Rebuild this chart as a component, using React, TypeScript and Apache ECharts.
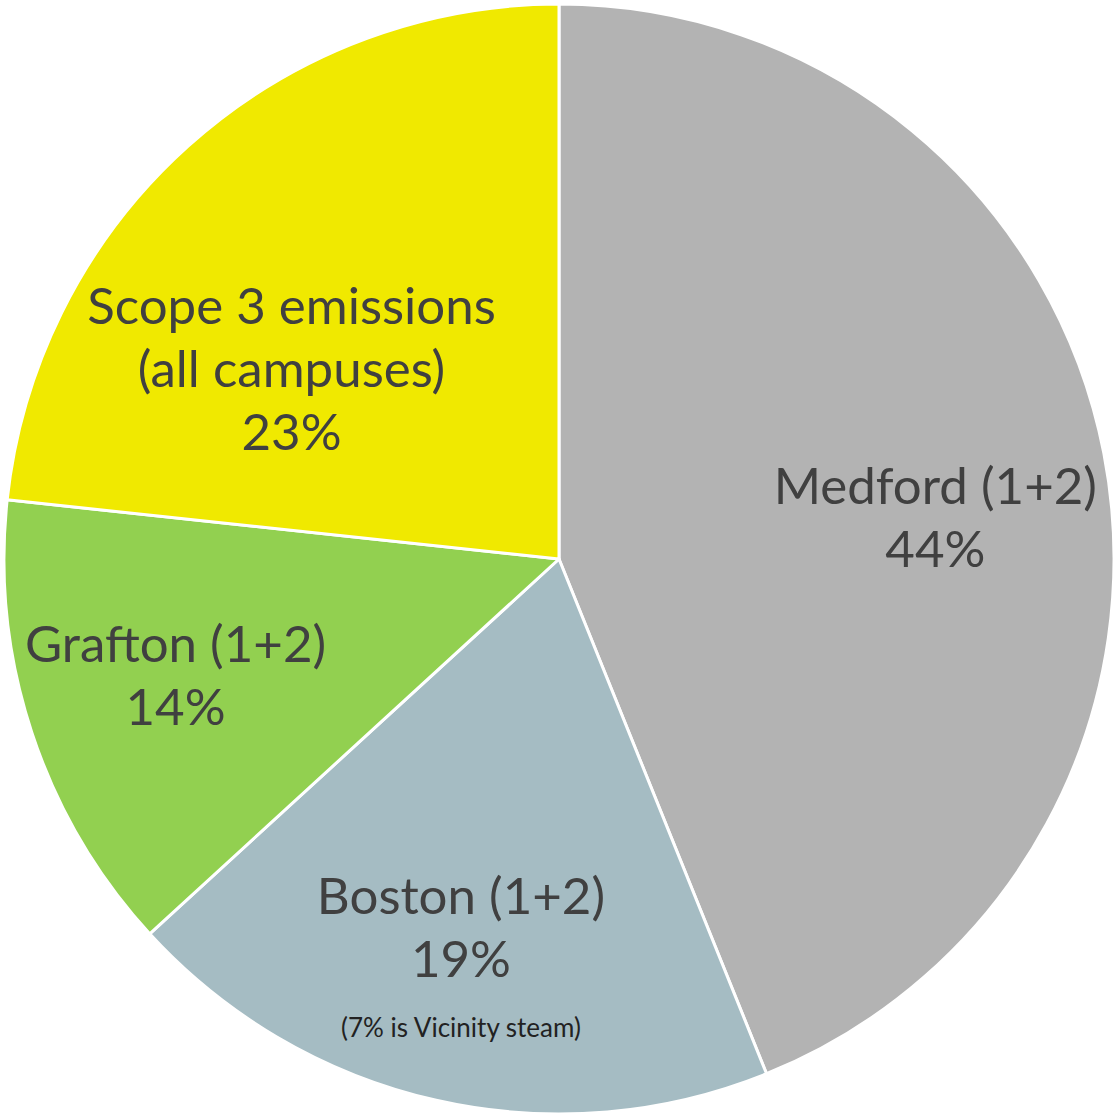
import React, { useEffect, useRef } from "react";
import * as echarts from "echarts";

const categories = ["Medford (1+2)", "Boston (1+2)", "Grafton (1+2)", "Scope 3 emissions\n(all campuses)"];
const values = [43.9, 19.3, 13.5, 23.3];
const percentLabels = ["44%", "19%", "14%", "23%"];
const notes = ["", "(7% is Vicinity steam)", "", ""];
const colors = ["#b3b3b3", "#a5bcc3", "#92d050", "#f0e900"];
const labelOffsets: [number, number][] = [
  [101, 10],
  [-36, 131],
  [-117, 27],
  [-80, 17],
];

export default function App() {
  const ref = useRef<HTMLDivElement>(null);
  useEffect(() => {
    if (!ref.current) return;
    const chart = echarts.init(ref.current, undefined, { renderer: "svg" });
    const data = categories.map((name, i) => {
      const lines = name.split("\n").map((l) => `{a|${l}}`);
      lines.push(`{a|${percentLabels[i]}}`);
      if (notes[i]) lines.push(`{s|${notes[i]}}`);
      return {
        name,
        value: values[i],
        itemStyle: { color: colors[i] },
        label: {
          formatter: lines.join("\n"),
          offset: labelOffsets[i],
        },
      };
    });
    chart.setOption({
      animation: false,
      backgroundColor: "#ffffff",
      series: [
        {
          type: "pie",
          center: [559, 559],
          radius: [0, 555],
          startAngle: 90,
          clockwise: true,
          avoidLabelOverlap: false,
          itemStyle: { borderColor: "#ffffff", borderWidth: 3 },
          emphasis: { disabled: true },
          label: {
            show: true,
            position: "inside",
            color: "#404040",
            fontFamily: "Lato",
            align: "center",
            rich: {
              a: { fontSize: 51, lineHeight: 63, color: "#404040", fontFamily: "Lato", align: "center" },
              s: { fontSize: 26, lineHeight: 75, color: "#222222", fontFamily: "Lato", align: "center" },
            },
          },
          labelLine: { show: false },
          data,
        },
      ],
    });
    return () => chart.dispose();
  }, []);
  return (
    <div
      ref={ref}
      style={{ position: "fixed", left: 0, top: 0, width: 1116, height: 1118, background: "#fff" }}
    />
  );
}
